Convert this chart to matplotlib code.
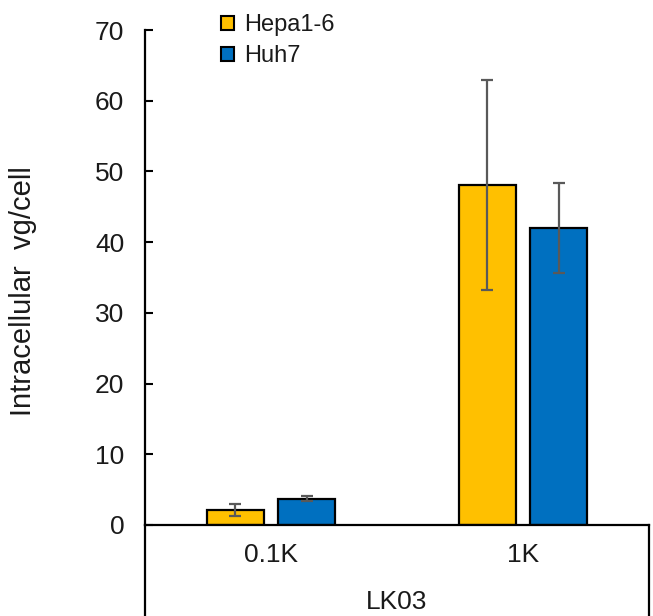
import numpy as np
import matplotlib
matplotlib.use("Agg")
import matplotlib.pyplot as plt
from matplotlib.patches import Patch
from matplotlib.lines import Line2D

plt.rcParams['font.family'] = ['Liberation Sans', 'DejaVu Sans']

# Data
categories = ['0.1K', '1K']
group_label = 'LK03'
series_names = ['Hepa1-6', 'Huh7']
hepa_vals = [2.1, 48.1]
hepa_err = [0.8, 14.8]
huh7_vals = [3.7, 42.0]
huh7_err = [0.35, 6.3]
colors = ['#FFC000', '#0070C0']
text_color = '#1a1a1a'

fig = plt.figure(figsize=(6.53, 6.16), dpi=100)
ax = fig.add_axes([145 / 653, 91 / 616, 504 / 653, 495 / 616])

x = np.arange(len(categories))
width = 0.226
offset = 0.1425
err_kw = dict(ecolor='#595959', elinewidth=1.6, capsize=4.6, capthick=1.6)

ax.bar(x - offset, hepa_vals, width, yerr=hepa_err, color=colors[0],
       edgecolor='black', linewidth=1.6, error_kw=err_kw, zorder=2)
ax.bar(x + offset, huh7_vals, width, yerr=huh7_err, color=colors[1],
       edgecolor='black', linewidth=1.6, error_kw=err_kw, zorder=2)

ax.set_xlim(-0.5, 1.5)
ax.set_ylim(0, 70)
ax.set_yticks(np.arange(0, 71, 10))
ax.tick_params(axis='y', direction='in', length=6, width=1.5, labelsize=19,
               pad=15, labelcolor=text_color)
ax.set_xticks(x)
ax.set_xticklabels(categories)
ax.tick_params(axis='x', length=0, labelsize=19, pad=13, labelcolor=text_color)

for side in ['top', 'right']:
    ax.spines[side].set_visible(False)
for side in ['left', 'bottom']:
    ax.spines[side].set_linewidth(1.6)
    ax.spines[side].set_color('black')

# Excel-style category box below the axis
for xa in [0, 1]:
    ax.add_line(Line2D([xa, xa], [0, -0.25], transform=ax.transAxes,
                       color='black', linewidth=1.6, clip_on=False))

fig.text(397 / 653, 1 - 602 / 616, group_label, ha='center', va='center',
         fontsize=19, color=text_color)

ax.set_ylabel('Intracellular  vg/cell', fontsize=21, color=text_color)
ax.yaxis.set_label_coords(-0.214, 0.472)

handles = [Patch(facecolor=c, edgecolor='black', linewidth=1.5) for c in colors]
fig.legend(handles, series_names, loc='upper left',
           bbox_to_anchor=(221 / 653, 1 - 14 / 616), frameon=False, fontsize=17,
           handlelength=0.53, handleheight=0.53, handletextpad=0.45,
           labelspacing=0.4, borderpad=0, borderaxespad=0, labelcolor=text_color)

fig.savefig('out.png', dpi=100)
